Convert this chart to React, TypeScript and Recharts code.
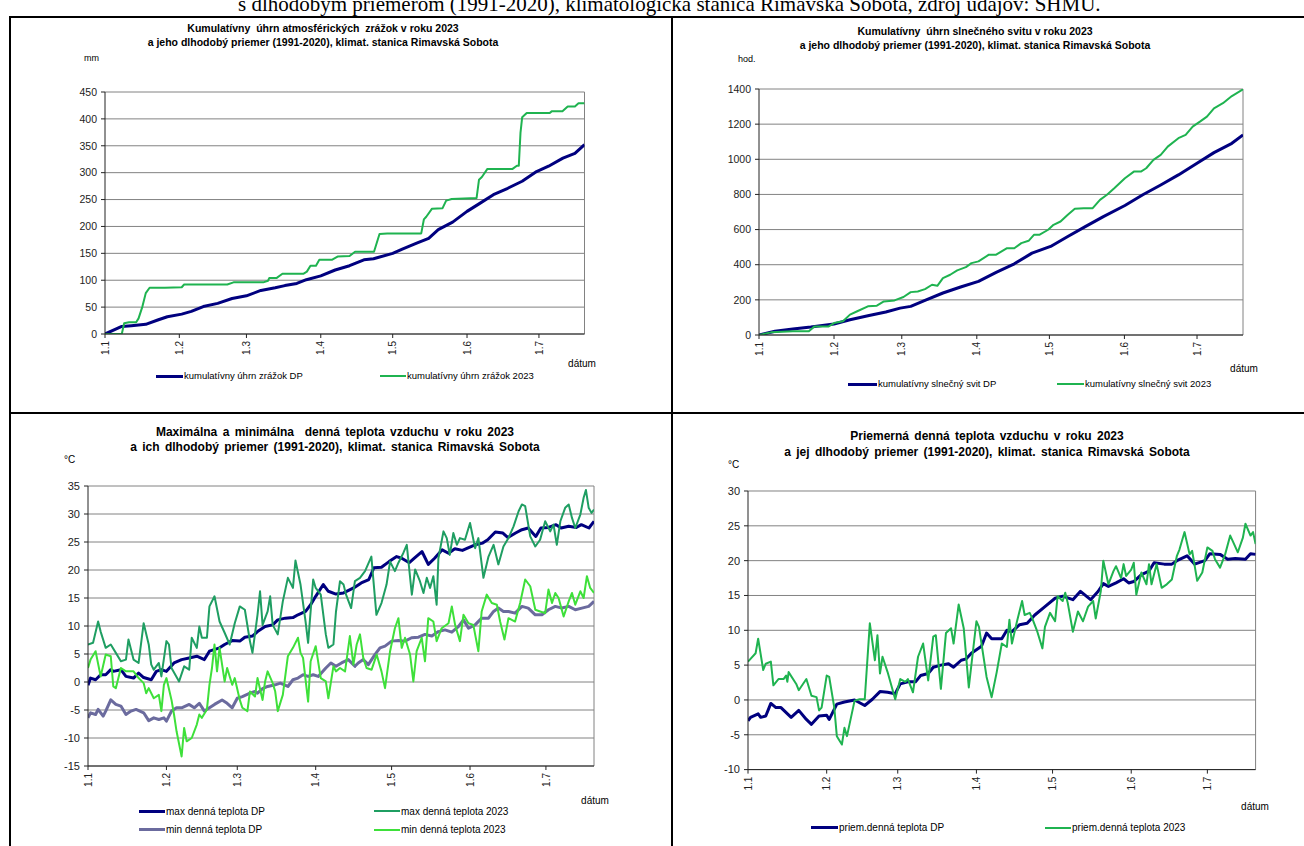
import React from 'react';
import { LineChart, Line, XAxis, YAxis, CartesianGrid, ReferenceLine } from 'recharts';

type Pt = [number, number];

const FONT = "'Liberation Sans', Arial, Helvetica, sans-serif";
const SERIF = "'Liberation Serif', 'Times New Roman', serif";

const xTickDays = [0, 31, 59, 90, 120, 151, 181];
const xTickLabels = ['1.1', '1.2', '1.3', '1.4', '1.5', '1.6', '1.7'];
const xDomain: [number, number] = [0, 200];

const precipTicks = [0, 50, 100, 150, 200, 250, 300, 350, 400, 450];
const sunTicks = [0, 200, 400, 600, 800, 1000, 1200, 1400];
const maxMinTicks = [-15, -10, -5, 0, 5, 10, 15, 20, 25, 30, 35];
const meanTicks = [-10, -5, 0, 5, 10, 15, 20, 25, 30];

const precipDP: Pt[] = [[0,0],[7,14],[11,15.5],[17,18],[22,26],[26,32],[32,37],[36,42],[41,51],[47,57],[53,66],[59,71],[65,81],[71,86],[75,90],[80,94],[84,101],[90,108],[96,119],[102,127],[108,138],[112,140],[120,150],[124,158],[130,169],[135,178],[139,194],[145,208],[151,228],[156,242],[162,259],[168,271],[174,284],[180,302],[185,312],[191,327],[196,336],[200,352]];
const precip2023: Pt[] = [[0,0],[7,0],[8,20],[10,22],[13,22],[14,29],[15.6,51],[17,76],[18.6,86],[25,86],[32,87],[33,92],[51,92],[53.6,96],[66,96],[68,99],[68.5,104],[71.5,104],[74,112],[82.7,112],[84.2,116],[85.7,127],[88,127],[89.4,138],[94.6,138],[97,144],[102,145],[104.3,153],[112.2,153],[114.5,186],[117.7,187],[131.9,187],[133,213],[134,218],[136.4,233],[140.8,234],[142.3,248],[144.6,251],[155,253],[156,287],[157.2,292],[159.5,307],[170,307],[171.8,313],[172.6,313],[173.3,374],[174,403],[175.9,411],[185.5,411],[186.3,414],[190.8,414],[193,423],[196,423],[197.5,429],[200,429]];

const sunDP: Pt[] = [[0,0],[6.6,21],[14,34],[21.4,45],[31,63],[37.6,87],[45,110],[52.4,131],[58.3,153],[62.7,163],[68.6,197],[76,239],[83.3,273],[90.7,305],[98,356],[105.5,405],[112.8,466],[120.5,504],[127.6,561],[135,618],[142.3,674],[151.2,737],[158.6,798],[166,854],[173.3,911],[181,978],[188,1038],[195.4,1091],[200,1139]];
const sun2023: Pt[] = [[0,0],[5,15],[14,21],[20.6,21],[22.9,49],[28.8,49],[31,68],[34.7,78],[37.6,116],[40.6,135],[45,163],[48.7,167],[51.6,191],[56,197],[59.7,216],[62.7,244],[65.6,248],[68.6,261],[71.5,286],[73.7,280],[76,324],[79,343],[81.9,368],[85.5,386],[87.8,409],[90.7,419],[95,457],[98,457],[102.5,494],[105.5,494],[108.4,523],[111.4,536],[113.6,570],[115.8,570],[119.5,599],[121.7,627],[124.6,646],[127.6,684],[130.5,718],[134.2,722],[137.9,722],[140.9,769],[143.8,798],[146.8,835],[151.2,892],[154.9,930],[157.8,930],[160,949],[163,997],[166,1025],[168.9,1072],[173.3,1120],[176.3,1139],[179.2,1186],[182.2,1214],[185.1,1243],[188,1290],[191.7,1319],[195.4,1360],[200,1398]];

const tmaxDP: Pt[] = [[0,-0.6],[1,0.7],[3,0.4],[5,1.3],[7,1.3],[9,2.2],[10,1.9],[13,2.2],[15,1.0],[18,0.7],[20,1.6],[22,0.8],[25,0.4],[27,1.9],[29,2.2],[31,1.9],[34,3.4],[37,4.0],[40,4.3],[43,4.6],[46,4.0],[48,5.5],[52,6.1],[54,6.7],[57,7.4],[60,7.3],[62,8.0],[65,8.2],[67,9.0],[70,9.9],[73,10.2],[75,11.1],[78,11.4],[81,11.5],[83,12.0],[86,12.6],[88,13.8],[90,15.3],[93,17.4],[95,16.2],[98,15.7],[101,15.9],[105,16.8],[108,17.7],[111,18.3],[113,20.4],[116,20.5],[119,21.5],[122,22.4],[124,22.1],[127,21.3],[129,22.1],[132,23.3],[134.5,21.0],[137,22.1],[140,23.6],[142.5,23.0],[145,23.8],[148,23.5],[150,23.9],[153,24.5],[156,24.8],[158,25.4],[161,26.8],[164,26.6],[166,25.8],[169,26.6],[171.5,27.2],[174,27.5],[177,26.0],[179,27.5],[182,27.6],[185,28.1],[187,27.5],[190,27.8],[193,27.6],[195,28.1],[198,27.5],[200,28.7]];
const tmax2023: Pt[] = [[0,6.7],[2,7.0],[4,10.8],[5,9.0],[7,6.1],[9,6.7],[11,5.2],[13,3.7],[15,4.0],[16,7.6],[18,4.0],[20,3.4],[22,10.5],[24,6.7],[25,3.1],[26,2.2],[28,3.4],[29,1.0],[31,7.3],[32,6.7],[33,2.5],[36,0.1],[38,2.8],[40,2.2],[41,7.9],[43,6.1],[44,9.9],[45,7.9],[47,7.9],[48,13.5],[50,15.3],[52,10.8],[54,8.8],[56,6.7],[58,10.5],[60,13.5],[62,12.9],[64,7.3],[65,5.2],[67,12.0],[68,16.2],[69,10.2],[71,12.6],[72,15.3],[73,10.2],[75,8.5],[77,14.4],[79,18.6],[81,16.8],[82,21.7],[84,17.4],[86,10.8],[87,7.0],[89,18.3],[90,16.8],[92,15.6],[94,8.5],[95,6.1],[97,6.7],[98,12.5],[99.6,18.0],[101,17.4],[102,15.6],[104,13.2],[105.5,18.0],[107.5,18.6],[109.5,19.8],[112,22.4],[114,12.0],[116,14.1],[118,17.4],[119.4,21.5],[121.3,19.8],[122.7,21.3],[124.6,23.0],[126,24.5],[128,15.6],[129.3,20.1],[131.2,18.0],[132.6,15.9],[133.9,18.6],[135.2,16.8],[136.5,18.9],[137.8,13.8],[138.5,22.1],[140.5,26.9],[141.8,25.7],[143,22.7],[144.4,26.6],[145.8,24.5],[147,25.7],[149,25.4],[151,28.4],[153,23.9],[154.3,25.7],[156.3,18.6],[158.3,22.4],[160.3,24.5],[162.2,21.0],[164.2,24.2],[166.2,25.7],[168.2,27.8],[170.2,30.5],[171.5,31.7],[172.8,31.4],[174.8,26.0],[176.8,24.2],[178.7,25.4],[180.7,28.7],[182.7,26.9],[184,28.1],[185.3,24.5],[186.7,28.7],[188.6,31.1],[190,31.7],[191.3,29.3],[192.6,27.5],[194.6,29.9],[195.9,32.9],[196.8,34.3],[197.9,31.1],[199,30.2],[200,30.8]];
const tminDP: Pt[] = [[0,-6.4],[1,-5.5],[3,-5.8],[4,-4.9],[6,-6.1],[7,-5.2],[9,-3.2],[11,-4.0],[13,-4.3],[15,-5.8],[17,-5.2],[19,-4.9],[22,-5.5],[24,-6.9],[26,-6.4],[28,-6.7],[30,-6.4],[31,-7.0],[33,-5.2],[35,-4.6],[37,-4.6],[40,-4.0],[42,-4.6],[44,-3.8],[46,-5.2],[48,-4.6],[50,-4.0],[53,-3.2],[55,-3.8],[57,-4.6],[59,-2.9],[61,-2.6],[64,-2.0],[66,-1.7],[67,-2.0],[69,-1.2],[71,-0.8],[74,-0.5],[76,-0.2],[79,-0.8],[81,0.4],[83,0.7],[85,1.3],[87,1.0],[89,1.3],[91,1.0],[94,2.5],[96,3.4],[98,2.8],[100.2,3.4],[102.9,4.0],[105.5,2.8],[106.8,3.4],[108.8,4.0],[110.8,3.1],[113.4,4.9],[115.4,6.1],[117.4,6.4],[120,7.3],[122.7,7.4],[125.3,7.3],[127.9,7.9],[130.6,8.0],[133.2,8.5],[135.9,8.2],[138.5,9.0],[141.1,9.3],[143.8,8.9],[146.4,9.9],[148.4,11.1],[150.4,9.6],[153,10.2],[155.6,11.4],[158.3,11.4],[160.3,12.6],[162.2,13.2],[164.2,12.6],[166.2,12.6],[168.8,12.3],[171.5,13.5],[174,13.2],[176.8,12.0],[179.4,12.0],[182,12.9],[184.7,13.5],[187.3,13.2],[190,13.5],[192.6,12.9],[195.2,13.2],[197.9,13.5],[200,14.4]];
const tmin2023: Pt[] = [[0,2.5],[1,4.0],[3,5.5],[5,1.0],[7,4.9],[9,4.6],[10,-0.8],[11,-1.1],[13,2.5],[15,1.9],[18,1.9],[20,0.7],[22,-0.2],[23,-2.0],[24,-1.1],[26,-2.9],[28,-2.3],[29,-5.2],[30,-0.5],[31,0.7],[33,-3.2],[34,-5.8],[35,-8.8],[37,-13.3],[38,-8.2],[39,-10.6],[41,-10.0],[43,-7.6],[44,-5.8],[45,-6.4],[47,-4.9],[48,-0.5],[49,2.5],[50,6.7],[51,1.9],[52,6.1],[54,0.1],[55,2.5],[57,-0.5],[58,0.7],[60,-3.2],[61,-4.6],[63,-5.2],[64,-1.7],[66,-2.6],[67,0.7],[69,-3.2],[70,0.1],[71,1.9],[73,-0.2],[74,-1.7],[75,-5.2],[77,-2.3],[79,4.6],[81,6.1],[83,7.9],[84,5.2],[85,4.3],[87,-3.5],[88,3.7],[90,6.4],[92,0.7],[94,0.1],[95,-2.9],[97,2.8],[98,1.9],[99.6,2.5],[101.6,1.9],[103.5,8.2],[104.9,3.1],[106.2,6.7],[107.5,8.5],[108.8,4.3],[110.1,2.5],[112.1,2.2],[114.1,4.9],[116,1.9],[117.4,-1.1],[119.4,5.5],[121.3,9.6],[122.7,11.4],[124,6.1],[125.3,7.9],[127.3,4.9],[128.6,0.1],[129.9,5.5],[131.9,7.9],[133.2,3.7],[134.5,11.4],[136.5,10.8],[137.8,7.3],[139.8,9.6],[142.5,10.5],[143.8,13.5],[145.1,10.2],[147,7.3],[148.4,12.0],[150.4,10.5],[152.3,10.2],[154.3,5.5],[155.6,12.6],[157.6,15.6],[159.6,14.1],[161.6,13.8],[162.9,10.8],[164.6,7.6],[166.2,11.4],[168.8,10.8],[170.8,14.1],[172.8,18.3],[174.8,17.1],[176.8,12.9],[178.7,12.6],[180.7,12.3],[182,16.5],[183.4,14.1],[184.7,15.9],[186,15.0],[188,11.7],[190,14.4],[191.3,15.9],[192.6,13.8],[194.6,16.2],[195.9,15.0],[197.2,18.9],[198.5,16.8],[200,15.9]];

const tmeanDP: Pt[] = [[0,-3.0],[1,-2.5],[4,-2.0],[5,-2.5],[7,-2.3],[9,-0.5],[11,-1.1],[13,-1.1],[17,-2.5],[20,-1.5],[23,-2.8],[25,-3.5],[28,-2.3],[31,-2.2],[32,-2.8],[35,-0.6],[38,-0.3],[42,0],[46,-0.8],[49,0.1],[52,1.2],[55,1.1],[58,0.9],[60,2.3],[63,2.6],[66,2.6],[68,3.5],[71,3.8],[73,4.7],[76,5.0],[79,5.2],[81,4.7],[84,5.7],[86,5.9],[88,6.7],[92,7.7],[94,9.6],[96,8.8],[100,8.8],[102,10.0],[104,9.8],[107,10.8],[110,11.0],[113,12.2],[117,13.4],[121,14.6],[124,14.9],[128,14.4],[131,15.6],[135,14.4],[138,15.6],[140,16.7],[142,16.3],[145,16.8],[148,17.4],[150,16.8],[152,17.0],[155,18.0],[158,18.5],[160,19.7],[164,19.5],[167,19.5],[169,20.0],[173,20.7],[176,19.5],[180,20.0],[182,21.0],[186,20.9],[189,20.2],[192,20.3],[196,20.2],[198,21.0],[200,20.9]];
const tmean2023: Pt[] = [[0,5.5],[3,6.7],[4,8.8],[6,4.3],[7,5.2],[9,5.5],[10,2.1],[12,3.0],[14,3.0],[15,3.5],[15.5,2.6],[16,4.0],[19,2.3],[20,1.4],[23,3.0],[25,0.6],[27,0.4],[28,-1.5],[29,-1.1],[31,3.5],[32,3.3],[34,-1.1],[35,-5.2],[37,-6.4],[38,-4.0],[39,-5.2],[42,-0.1],[44,0.1],[46,0.1],[48,11.0],[50,5.7],[51,9.3],[52,3.8],[53,6.2],[55,4.0],[58,0.1],[60,3.0],[62,2.6],[63,3.0],[65,1.1],[67,6.2],[69,8.1],[71,2.8],[73,9.1],[74,9.3],[76,1.6],[78,9.6],[80,10.3],[81,8.1],[83,13.7],[85,10.3],[87,1.8],[90,11.3],[91,10.5],[94,3.3],[96,0.4],[98,4.0],[100,8.1],[102,7.6],[103,11.5],[104,8.1],[106,11.3],[108,14.2],[109,12.2],[111,12.5],[112,11.7],[114,9.8],[116,7.4],[117,10.5],[119,12.5],[121,11.3],[122,14.9],[124,14.2],[125,15.4],[126,13.9],[128,9.8],[130,12.7],[132,11.3],[134,13.4],[136,14.2],[137,11.7],[139,15.6],[140,20.0],[142,16.6],[144,18.5],[145,19.2],[147,17.5],[148,19.5],[149,17.8],[151,18.7],[152,19.7],[153,15.1],[155,18.3],[157,16.6],[158,19.5],[159,16.6],[161,19.5],[163,16.1],[165,16.6],[167,17.3],[169,20.7],[170,21.6],[172,24.1],[174,20.9],[175,21.4],[177,17.1],[179,18.3],[181,21.9],[183,21.4],[184,20.2],[186,19.0],[188,20.9],[190,23.6],[191,22.8],[193,21.2],[195,23.3],[196,25.3],[198,23.6],[199,24.1],[200,22.4]];

const NAVY = '#00007f';
const GREEN = '#1fb350';
const TEAL = '#1f9e62';
const LIME = '#3ee03a';
const SLATE = '#6b6b9e';
const GRID = '#828282';
const AXIS = '#222';

type Series = { name: string; color: string; width: number; points: Pt[] };

const RotTick = (props: any) => {
  const { x, y, payload } = props;
  const i = xTickDays.indexOf(payload.value);
  return (
    <text x={x} y={y} transform={`rotate(-90 ${x} ${y})`} textAnchor="end" dy="0.36em"
      fontSize={10} fontFamily={FONT} fill="#222">{i >= 0 ? xTickLabels[i] : ''}</text>
  );
};

function Panel({ x0, x1, y0, y1, yTicks, series, yFont }:
  { x0: number; x1: number; y0: number; y1: number; yTicks: number[]; series: Series[]; yFont: number }) {
  const yW = 60, mT = 12, mR = 14, xH = 40;
  const left = x0 - yW;
  const top = y0 - mT;
  const width = x1 - left + mR;
  const height = y1 - top + xH;
  return (
    <div style={{ position: 'absolute', left, top, width, height }}>
      <LineChart width={width} height={height} margin={{ top: mT, right: mR, bottom: 0, left: 0 }}>
        <CartesianGrid vertical={false} stroke={GRID} />
        <XAxis dataKey="d" type="number" domain={xDomain} ticks={xTickDays} interval={0} height={xH}
          tickSize={4} tickMargin={3} tick={RotTick} axisLine={{ stroke: AXIS }} tickLine={{ stroke: AXIS }} allowDataOverflow />
        <YAxis type="number" domain={[yTicks[0], yTicks[yTicks.length - 1]]} ticks={yTicks} interval={0} width={yW}
          tickSize={4} tickMargin={4} tick={{ fontSize: yFont, fill: '#222', fontFamily: FONT }}
          axisLine={{ stroke: AXIS }} tickLine={{ stroke: AXIS }} allowDataOverflow />
        <ReferenceLine x={200} stroke={GRID} />
        {series.map((s) => (
          <Line key={s.name} data={s.points.map(([d, v]) => ({ d, v }))} dataKey="v" name={s.name}
            type="linear" stroke={s.color} strokeWidth={s.width} dot={false} activeDot={false}
            isAnimationActive={false} strokeLinejoin="round" />
        ))}
      </LineChart>
    </div>
  );
}

const Txt = ({ x, y, size, bold, center, children, ws }:
  { x: number; y: number; size: number; bold?: boolean; center?: boolean; children: React.ReactNode; ws?: number }) => {
  const lh = Math.round(size * 1.3);
  const style: React.CSSProperties = {
    position: 'absolute', top: y - lh / 2, height: lh, lineHeight: lh + 'px', fontSize: size,
    fontFamily: FONT, fontWeight: bold ? 700 : 400, color: '#000', whiteSpace: 'pre', wordSpacing: ws,
  };
  if (center) { style.left = x - 400; style.width = 800; style.textAlign = 'center'; } else style.left = x;
  return <div style={style}>{children}</div>;
};

const LegendItem = ({ s, x1, x2, y, size }: { s: Series; x1: number; x2: number; y: number; size: number }) => (
  <>
    <div style={{ position: 'absolute', left: x1, top: y - s.width / 2, width: x2 - x1, height: s.width, background: s.color }} />
    <Txt x={x2 + 1} y={y} size={size}>{s.name}</Txt>
  </>
);

const Rule = ({ x, y, w, h }: { x: number; y: number; w: number; h: number }) => (
  <div style={{ position: 'absolute', left: x, top: y, width: w, height: h, background: '#000' }} />
);

export default function App() {
  const s1: Series[] = [
    { name: 'kumulatívny úhrn zrážok DP', color: NAVY, width: 3, points: precipDP },
    { name: 'kumulatívny úhrn zrážok 2023', color: GREEN, width: 2, points: precip2023 },
  ];
  const s2: Series[] = [
    { name: 'kumulatívny slnečný svit DP', color: NAVY, width: 3, points: sunDP },
    { name: 'kumulatívny slnečný svit 2023', color: GREEN, width: 2, points: sun2023 },
  ];
  const s3: Series[] = [
    { name: 'max denná teplota DP', color: NAVY, width: 3, points: tmaxDP },
    { name: 'max denná teplota 2023', color: TEAL, width: 2, points: tmax2023 },
    { name: 'min denná teplota DP', color: SLATE, width: 3, points: tminDP },
    { name: 'min denná teplota 2023', color: LIME, width: 2, points: tmin2023 },
  ];
  const s4: Series[] = [
    { name: 'priem.denná teplota DP', color: NAVY, width: 3, points: tmeanDP },
    { name: 'priem.denná teplota 2023', color: GREEN, width: 2, points: tmean2023 },
  ];

  return (
    <div style={{ position: 'absolute', left: 0, top: 0, width: 1304, height: 846, overflow: 'hidden', background: '#fff' }}>
      <div style={{ position: 'absolute', left: 238, top: -6, fontFamily: SERIF, fontSize: 21, lineHeight: '21px', whiteSpace: 'nowrap', color: '#000' }}>
        s dlhodobým priemerom (1991-2020), klimatologická stanica Rimavská Sobota, zdroj údajov: SHMÚ.
      </div>

      <Rule x={9} y={16} w={1295} h={2} />
      <Rule x={9} y={16} w={2} h={830} />
      <Rule x={671} y={16} w={2} h={830} />
      <Rule x={9} y={412} w={1295} h={2} />

      {/* Chart 1 */}
      <Txt x={323} y={28} size={10.5} bold center>{'Kumulatívny  úhrn atmosférických  zrážok v roku 2023'}</Txt>
      <Txt x={323} y={42} size={10.5} bold center>{'a jeho dlhodobý priemer (1991-2020), klimat. stanica Rimavská Sobota'}</Txt>
      <Txt x={84} y={58} size={9}>mm</Txt>
      <Panel x0={104.5} x1={584} y0={92} y1={334} yTicks={precipTicks} series={s1} yFont={10.5} />
      <Txt x={582} y={363} size={10} center>dátum</Txt>
      <LegendItem s={s1[0]} x1={156} x2={183} y={376} size={9.5} />
      <LegendItem s={s1[1]} x1={380} x2={406} y={376} size={9.5} />

      {/* Chart 2 */}
      <Txt x={975} y={31} size={10.5} bold center>{'Kumulatívny  úhrn slnečného svitu v roku 2023'}</Txt>
      <Txt x={975} y={45} size={10.5} bold center>{'a jeho dlhodobý priemer (1991-2020), klimat. stanica Rimavská Sobota'}</Txt>
      <Txt x={738} y={59} size={9}>hod.</Txt>
      <Panel x0={759} x1={1243} y0={89} y1={335} yTicks={sunTicks} series={s2} yFont={10.5} />
      <Txt x={1244} y={368} size={10} center>dátum</Txt>
      <LegendItem s={s2[0]} x1={848} x2={877} y={384} size={9.5} />
      <LegendItem s={s2[1]} x1={1057} x2={1084} y={384} size={9.5} />

      {/* Chart 3 */}
      <Txt x={335} y={432} size={12} bold center ws={2}>{'Maximálna a minimálna  denná teplota vzduchu v roku 2023'}</Txt>
      <Txt x={335} y={447} size={12} bold center ws={2}>{'a ich dlhodobý priemer (1991-2020), klimat. stanica Rimavská Sobota'}</Txt>
      <Txt x={64} y={459} size={10}>°C</Txt>
      <Panel x0={88.3} x1={594.3} y0={486.3} y1={766.3} yTicks={maxMinTicks} series={s3} yFont={11} />
      <Txt x={595} y={800} size={10} center>dátum</Txt>
      <LegendItem s={s3[0]} x1={139} x2={165} y={811} size={10} />
      <LegendItem s={s3[1]} x1={374} x2={400} y={811} size={10} />
      <LegendItem s={s3[2]} x1={139} x2={165} y={829.5} size={10} />
      <LegendItem s={s3[3]} x1={374} x2={400} y={829.5} size={10} />

      {/* Chart 4 */}
      <Txt x={987} y={436} size={12} bold center ws={2}>{'Priemerná denná teplota vzduchu v roku 2023'}</Txt>
      <Txt x={987} y={452} size={12} bold center ws={2}>{'a jej dlhodobý priemer (1991-2020), klimat. stanica Rimavská Sobota'}</Txt>
      <Txt x={728} y={464} size={10}>°C</Txt>
      <Panel x0={748.4} x1={1256} y0={491.4} y1={770} yTicks={meanTicks} series={s4} yFont={11} />
      <Txt x={1255} y={806} size={10} center>dátum</Txt>
      <LegendItem s={s4[0]} x1={811} x2={838} y={827.7} size={10} />
      <LegendItem s={s4[1]} x1={1045} x2={1071} y={827.7} size={10} />
    </div>
  );
}
